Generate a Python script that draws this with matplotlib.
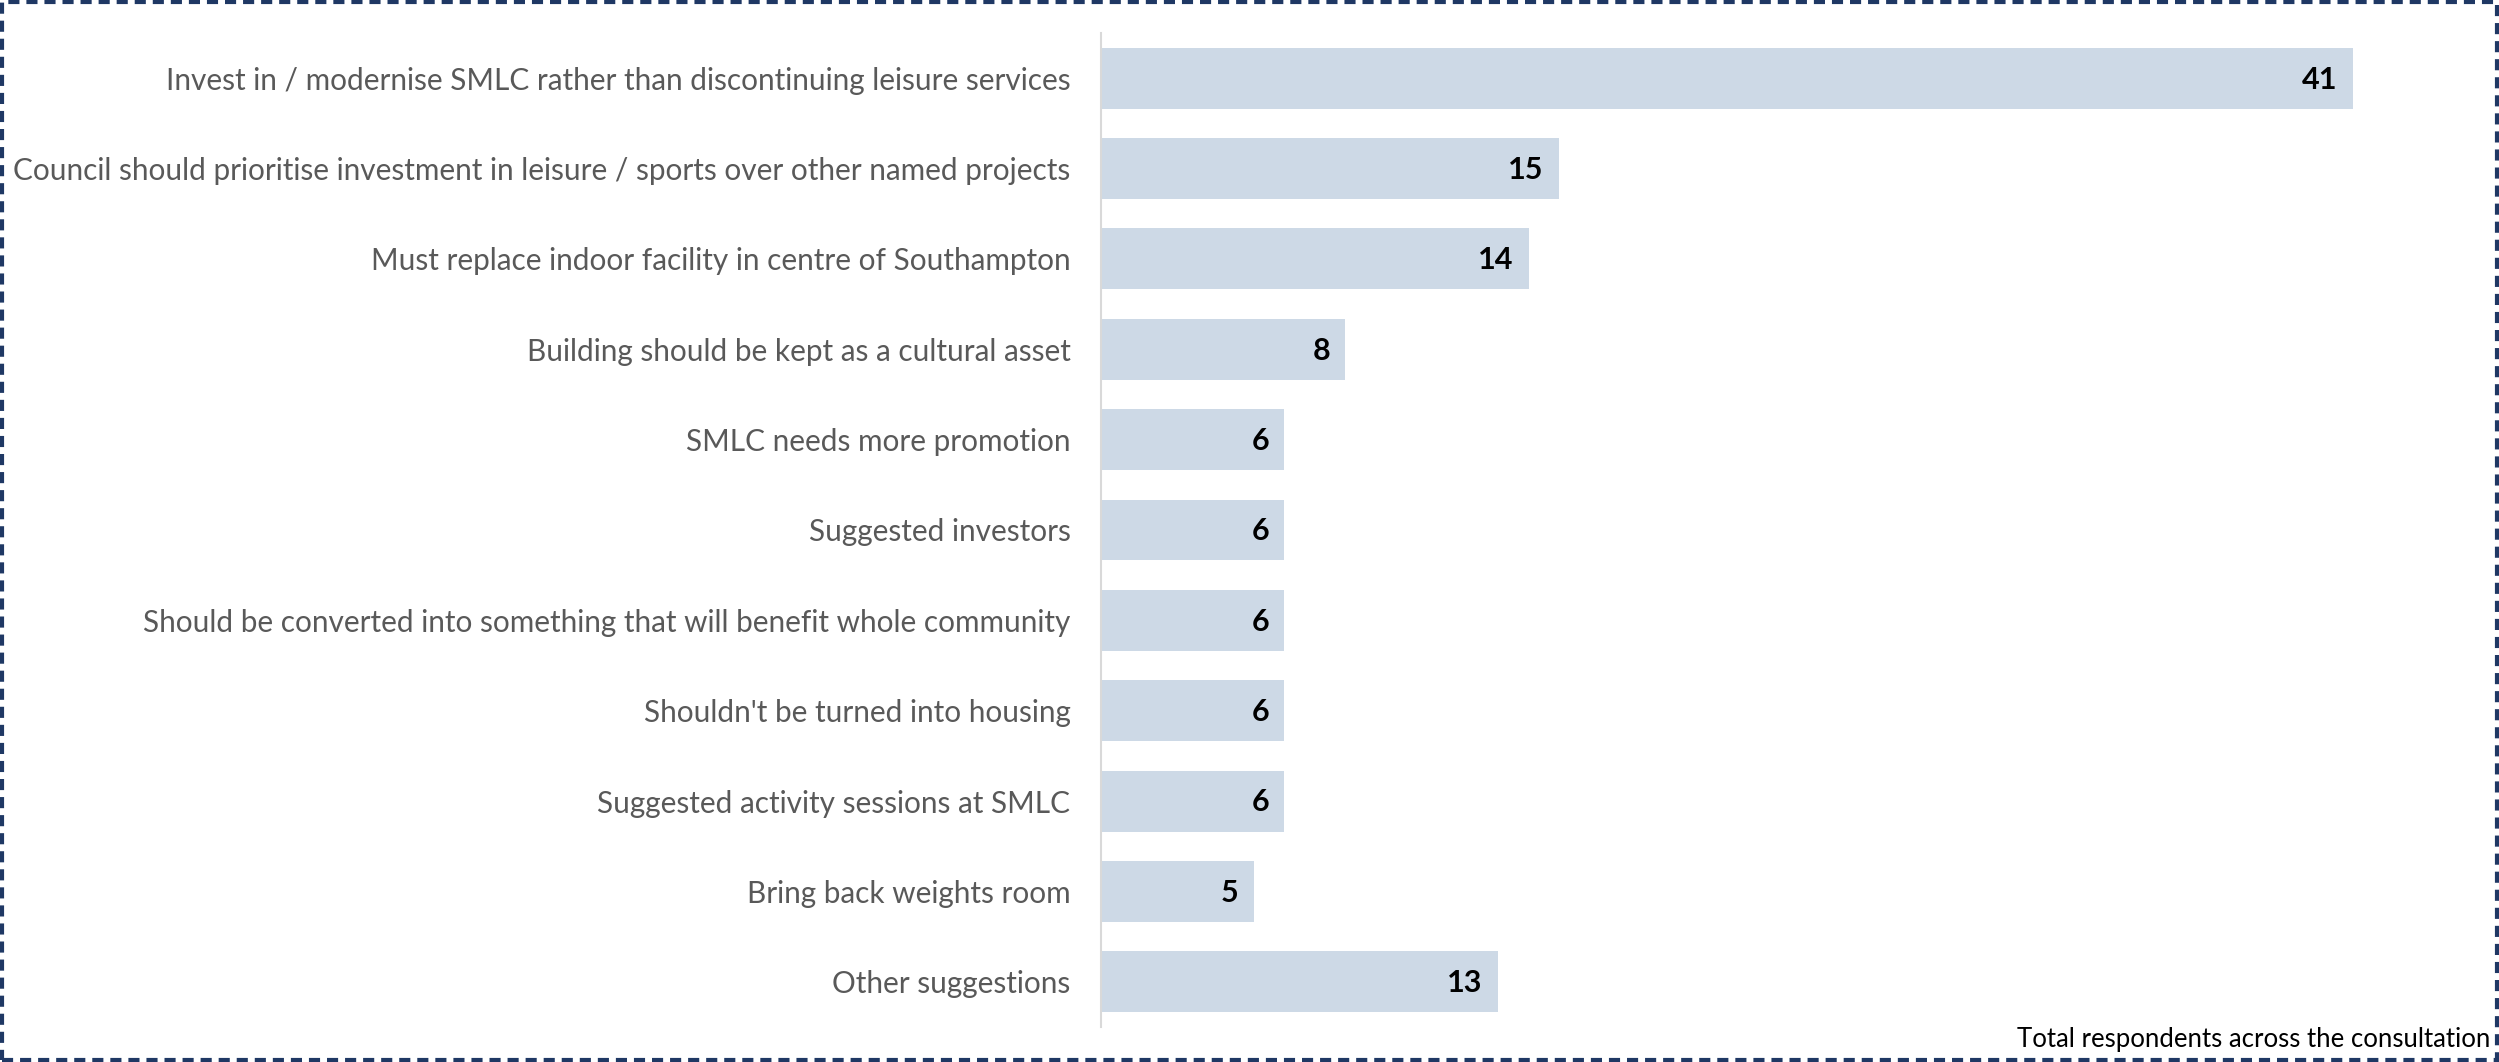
import matplotlib
matplotlib.use("Agg")
import matplotlib.pyplot as plt
from matplotlib.patches import Rectangle
from matplotlib import font_manager

plt.rcParams['lines.scale_dashes'] = False

categories = [
    "Invest in / modernise SMLC rather than discontinuing leisure services",
    "Council should prioritise investment in leisure / sports over other named projects",
    "Must replace indoor facility in centre of Southampton",
    "Building should be kept as a cultural asset",
    "SMLC needs more promotion",
    "Suggested investors",
    "Should be converted into something that will benefit whole community",
    "Shouldn't be turned into housing",
    "Suggested activity sessions at SMLC",
    "Bring back weights room",
    "Other suggestions",
]
values = [41, 15, 14, 8, 6, 6, 6, 6, 6, 5, 13]
footnote = "Total respondents across the consultation"

names = {f.name for f in font_manager.fontManager.ttflist}
font = "Liberation Sans Narrow" if "Liberation Sans Narrow" in names else "Lato"
plt.rcParams['font.family'] = [font, 'DejaVu Sans']

W, H, DPI = 2499, 1062, 100
fig = plt.figure(figsize=(W / DPI, H / DPI), dpi=DPI)

ax_left = 1101 / W
ax_right = 0.99
ax_bottom = 1 - 1027 / H
ax_top = 1 - 33 / H
ax = fig.add_axes([ax_left, ax_bottom, ax_right - ax_left, ax_top - ax_bottom])

px_per_unit = (2353 - 1101) / 41.0
xmax = (ax_right * W - 1101) / px_per_unit

y = list(range(len(categories)))
bars = ax.barh(y, values, height=0.675, color="#CDD9E6", edgecolor="none")
ax.set_ylim(len(categories) - 0.5, -0.5)
ax.set_xlim(0, xmax)
ax.set_yticks(y)
ax.set_yticklabels(categories, fontsize=21.4, color="#595959")
ax.tick_params(axis='y', length=0, pad=22)
ax.set_xticks([])
for s in ["top", "right", "bottom"]:
    ax.spines[s].set_visible(False)
ax.spines["left"].set_color("#D9D9D9")
ax.spines["left"].set_linewidth(1.5)

for yi, v in zip(y, values):
    ax.annotate(str(v), xy=(v, yi), xytext=(-11, -1), textcoords="offset points",
                ha="right", va="center", fontsize=22, fontweight="bold", color="black")

fig.text(0.9965, 1 - 1039 / H, footnote, ha="right", va="center", fontsize=18.5, color="black")

border = Rectangle((2 / W, 2 / H), 1 - 4 / W, 1 - 4 / H, transform=fig.transFigure,
                   fill=False, edgecolor="#1F3864", linewidth=3,
                   linestyle=(0, (8, 5)))
fig.patches.append(border)

fig.savefig("out.png", dpi=DPI)
